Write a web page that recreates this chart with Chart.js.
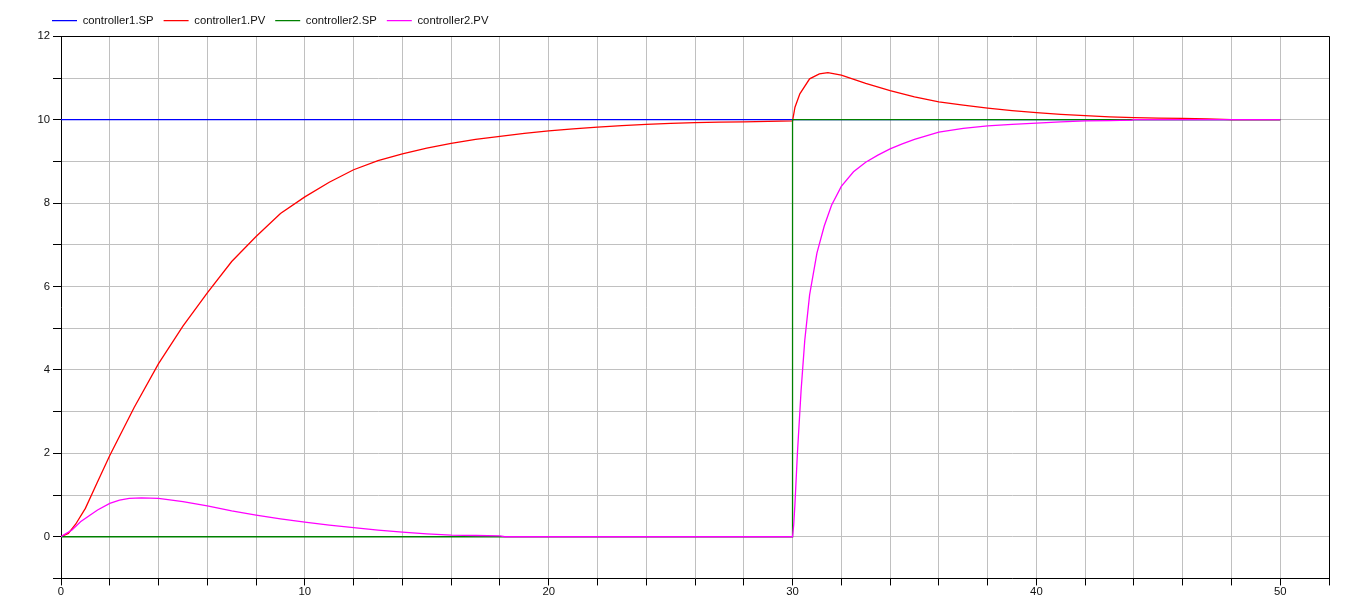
<!DOCTYPE html>
<html lang="en">
<head>
    <meta charset="UTF-8">
    <title>controller1 / controller2</title>
    <script src="https://cdn.jsdelivr.net/npm/chart.js"></script>
    <style>
        body {
            margin: 0;
            background: #fff;
        }
        #plot {
            display: block;
        }
    </style>
</head>
<body>
    <canvas id="plot" width="1354" height="603"></canvas>

    <script>
        // series names (legend order)
        const seriesNames = ["controller1.SP", "controller1.PV", "controller2.SP", "controller2.PV"];

        // controller1 set point
        const sp1Time = [0, 50];
        const sp1Values = [10, 10];

        // controller1 process value
        const pv1Time = [0, 0.3, 0.6, 1, 1.5, 2, 3, 4, 5, 6, 7, 8, 9, 10, 11, 12, 13, 14, 15, 16, 17, 18, 19, 20,
            21, 22, 23, 24, 25, 26, 27, 28, 29, 30, 30.1, 30.3, 30.7, 31.1, 31.45, 32, 33, 34, 35, 36, 37, 38,
            39, 40, 41, 42, 43, 44, 45, 46, 47, 48, 50];
        const pv1Values = [0, 0.08, 0.3, 0.68, 1.32, 1.95, 3.1, 4.15, 5.05, 5.85, 6.6, 7.2, 7.75, 8.15, 8.5, 8.8,
            9.02, 9.18, 9.32, 9.43, 9.53, 9.6, 9.67, 9.73, 9.78, 9.82, 9.86, 9.89, 9.91, 9.93, 9.94, 9.95, 9.96,
            9.97, 10.3, 10.62, 10.98, 11.1, 11.13, 11.07, 10.87, 10.7, 10.55, 10.43, 10.35, 10.28, 10.22, 10.17,
            10.13, 10.1, 10.07, 10.05, 10.04, 10.03, 10.02, 10.0, 10.0];

        // controller2 set point: step at t = 30
        const sp2Time = [0, 30, 30, 50];
        const sp2Values = [0, 0, 10, 10];

        // controller2 process value
        const pv2Time = [0, 0.1, 0.45, 0.8, 1.2, 1.5, 2, 2.4, 2.8, 3.3, 4, 5, 6, 7, 8, 9, 10, 11, 12, 13, 14, 15,
            16, 17, 18, 18.2, 30, 30.05, 30.1, 30.2, 30.35, 30.5, 30.7, 31, 31.3, 31.6, 32, 32.5, 33, 33.5, 34,
            34.5, 35, 36, 37, 38, 39, 40, 41, 42, 43, 43.9, 44, 50];
        const pv2Values = [0, 0.04, 0.16, 0.36, 0.52, 0.64, 0.8, 0.88, 0.92, 0.93, 0.92, 0.84, 0.74, 0.62, 0.52,
            0.43, 0.35, 0.28, 0.22, 0.16, 0.11, 0.07, 0.04, 0.03, 0.02, 0, 0, 0.3, 0.8, 2.0, 3.5, 4.7, 5.8, 6.8,
            7.45, 7.95, 8.4, 8.75, 8.98, 9.15, 9.3, 9.42, 9.53, 9.7, 9.79, 9.85, 9.89, 9.92, 9.95, 9.97, 9.98,
            9.99, 10, 10];

        const colors = ["#0000ff", "#ff0000", "#008000", "#ff00ff"];

        function toPoints(ts, vs) {
            return ts.map((t, i) => ({ x: t, y: vs[i] }));
        }

        // black frame on top and right of the plot area, legend nudged right
        const frame = {
            id: "frame",
            afterLayout(chart) {
                chart.legend.left = 42;
            },
            afterDraw(chart) {
                const a = chart.chartArea;
                const ctx = chart.ctx;
                const al = p => Math.round(p - 0.5) + 0.5;
                ctx.save();
                ctx.strokeStyle = "#000";
                ctx.lineWidth = 1;
                ctx.beginPath();
                ctx.moveTo(al(a.left), al(a.top));
                ctx.lineTo(al(a.right), al(a.top));
                ctx.lineTo(al(a.right), al(a.bottom));
                ctx.stroke();
                ctx.restore();
            }
        };

        Chart.defaults.font.family = "'Liberation Sans', Arial, sans-serif";
        Chart.defaults.font.size = 11.3;
        Chart.defaults.color = "#111";

        const ctx = document.getElementById("plot").getContext("2d");
        new Chart(ctx, {
            type: "line",
            data: {
                datasets: [
                    { label: seriesNames[0], data: toPoints(sp1Time, sp1Values), borderColor: colors[0], order: 4 },
                    { label: seriesNames[1], data: toPoints(pv1Time, pv1Values), borderColor: colors[1], order: 3 },
                    { label: seriesNames[2], data: toPoints(sp2Time, sp2Values), borderColor: colors[2], order: 2 },
                    { label: seriesNames[3], data: toPoints(pv2Time, pv2Values), borderColor: colors[3], order: 1 }
                ]
            },
            options: {
                responsive: false,
                animation: false,
                events: [],
                datasets: {
                    line: {
                        borderWidth: 1.3,
                        pointRadius: 0,
                        tension: 0,
                        fill: false,
                        backgroundColor: "transparent"
                    }
                },
                layout: {
                    padding: { left: 28, right: 25, top: 5, bottom: 4 }
                },
                plugins: {
                    legend: {
                        position: "top",
                        align: "start",
                        labels: {
                            usePointStyle: true,
                            pointStyle: "line",
                            pointStyleWidth: 25,
                            boxWidth: 25,
                            padding: 10,
                            color: "#111",
                            sort: (a, b) => a.datasetIndex - b.datasetIndex
                        }
                    },
                    tooltip: { enabled: false }
                },
                scales: {
                    x: {
                        type: "linear",
                        min: 0,
                        max: 52,
                        border: { color: "#000", width: 1 },
                        grid: { color: "#c0c0c0", tickColor: "#000", tickLength: 7 },
                        ticks: {
                            stepSize: 2,
                            autoSkip: false,
                            maxRotation: 0,
                            padding: 0,
                            callback: v => (v % 10 === 0 ? v : "")
                        }
                    },
                    y: {
                        min: -1,
                        max: 12,
                        border: { color: "#000", width: 1 },
                        grid: { color: "#c0c0c0", tickColor: "#000", tickLength: 8 },
                        ticks: {
                            stepSize: 1,
                            autoSkip: false,
                            padding: 3,
                            callback: v => (v % 2 === 0 ? v : "")
                        },
                        afterFit: scale => { scale.width = 33; }
                    }
                }
            },
            plugins: [frame]
        });
    </script>
</body>
</html>
